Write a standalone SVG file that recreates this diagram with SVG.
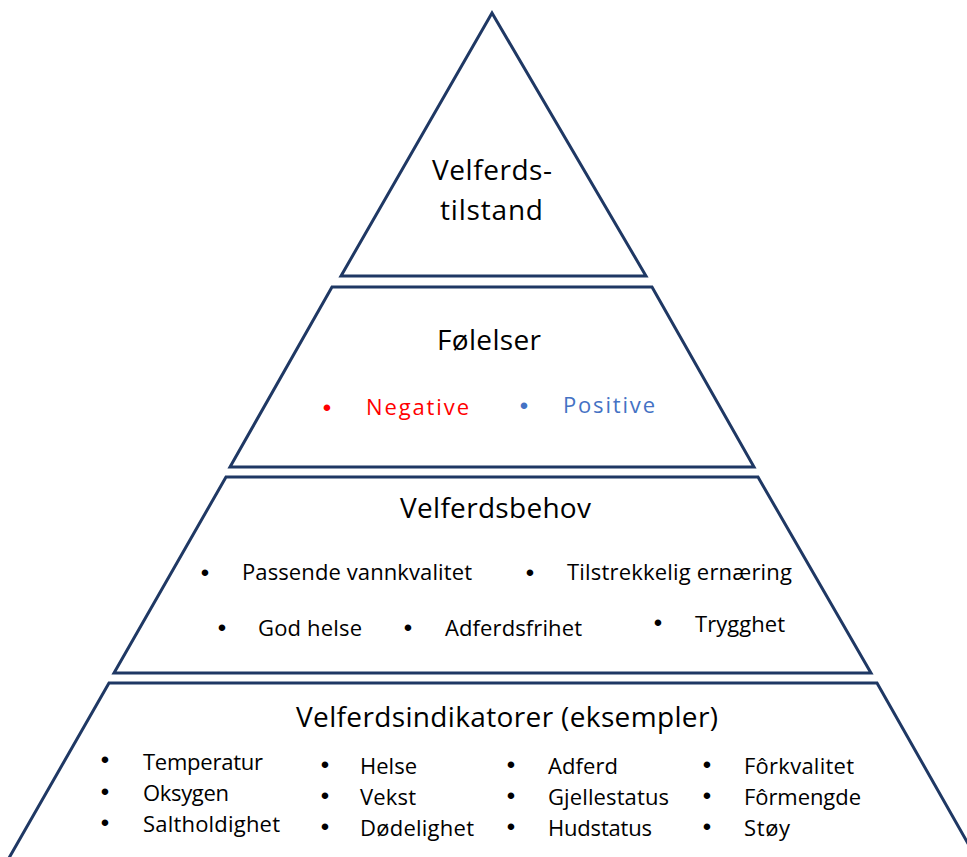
<svg xmlns="http://www.w3.org/2000/svg" width="967" height="857" viewBox="0 0 967 857">
<style>
.tier{fill:#ffffff;stroke:#1f3864;stroke-width:3;stroke-linejoin:miter}
text{font-family:"Open Sans","Liberation Sans",sans-serif;fill:#000;font-variant-ligatures:none}
.h{font-size:28px}
.i{font-size:22px}
.b{font-family:"Liberation Sans",Arial,sans-serif;font-size:24px;text-anchor:middle}
.neg{fill:#ff0000}
.pos{fill:#4472c4}
</style>
<rect width="967" height="857" fill="#ffffff"/>
<g id="tier1">
<polygon class="tier" points="492,13 341,276 646,276"/>
<text class="h" x="432" y="180" textLength="120">Velferds-</text>
<text class="h" x="440" y="220" textLength="103">tilstand</text>
</g>
<g id="tier2">
<polygon class="tier" points="332,287 652,287 754,467 230,467"/>
<text class="h" x="437" y="350" textLength="104">Følelser</text>
<text class="b neg" x="327" y="416">•</text>
<text class="i neg" x="366" y="415" textLength="103">Negative</text>
<text class="b pos" x="524" y="414">•</text>
<text class="i pos" x="563" y="413" textLength="92">Positive</text>
</g>
<g id="tier3">
<polygon class="tier" points="226,477 758,477 871,673 114,673"/>
<text class="h" x="400" y="518" textLength="191">Velferdsbehov</text>
<text class="b" x="205" y="581">•</text>
<text class="i" x="242" y="580" textLength="230">Passende vannkvalitet</text>
<text class="b" x="530" y="581">•</text>
<text class="i" x="567" y="580" textLength="225">Tilstrekkelig ernæring</text>
<text class="b" x="222" y="636">•</text>
<text class="i" x="258" y="636" textLength="104">God helse</text>
<text class="b" x="408" y="636">•</text>
<text class="i" x="445" y="636" textLength="137">Adferdsfrihet</text>
<text class="b" x="658" y="631">•</text>
<text class="i" x="695" y="632" textLength="90">Trygghet</text>
</g>
<g id="tier4">
<polygon class="tier" points="109,683 877,683 1000,900 -15,900"/>
<text class="h" x="296" y="727" textLength="422">Velferdsindikatorer (eksempler)</text>
<text class="b" x="105" y="768">•</text>
<text class="i" x="143" y="770" textLength="120">Temperatur</text>
<text class="b" x="105" y="800">•</text>
<text class="i" x="143" y="801" textLength="86">Oksygen</text>
<text class="b" x="105" y="831">•</text>
<text class="i" x="143" y="832" textLength="137">Saltholdighet</text>
<text class="b" x="325" y="773">•</text>
<text class="i" x="360" y="774" textLength="57">Helse</text>
<text class="b" x="325" y="804">•</text>
<text class="i" x="360" y="805" textLength="56">Vekst</text>
<text class="b" x="325" y="835">•</text>
<text class="i" x="360" y="836" textLength="114">Dødelighet</text>
<text class="b" x="511" y="773">•</text>
<text class="i" x="548" y="774" textLength="70">Adferd</text>
<text class="b" x="511" y="804">•</text>
<text class="i" x="548" y="805" textLength="121">Gjellestatus</text>
<text class="b" x="511" y="835">•</text>
<text class="i" x="548" y="836" textLength="104">Hudstatus</text>
<text class="b" x="707" y="773">•</text>
<text class="i" x="744" y="774" textLength="110">Fôrkvalitet</text>
<text class="b" x="707" y="804">•</text>
<text class="i" x="744" y="805" textLength="117">Fôrmengde</text>
<text class="b" x="707" y="835">•</text>
<text class="i" x="744" y="836" textLength="46">Støy</text>
</g>
</svg>
